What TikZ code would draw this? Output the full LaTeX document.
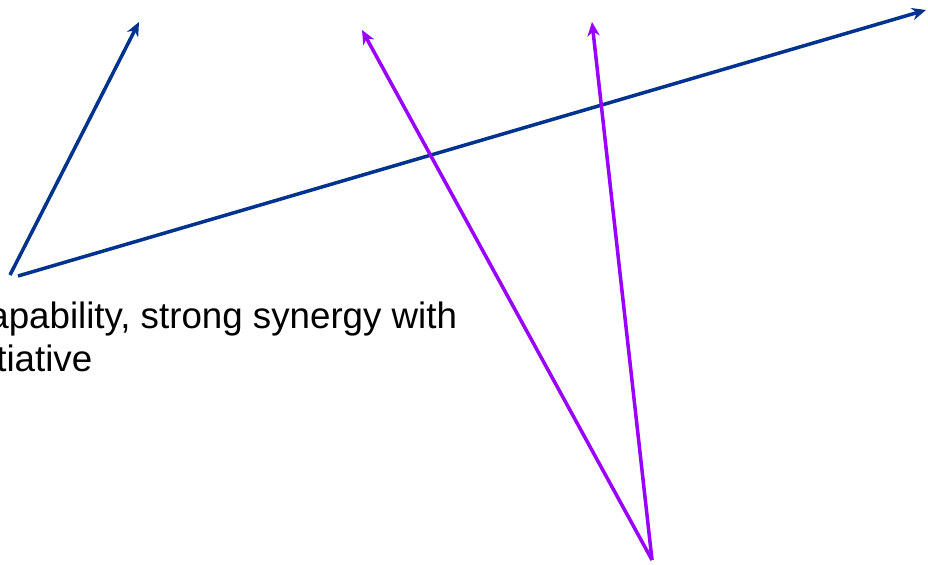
\documentclass[tikz,border=0pt]{standalone}
\usepackage{fontspec}
\setmainfont{Liberation Sans}
\usetikzlibrary{arrows.meta}
\definecolor{navyline}{RGB}{0,51,141}
\definecolor{violetline}{RGB}{153,0,255}

\begin{document}
\begin{tikzpicture}[x=0.02cm,y=-0.02cm,
  every node/.style={font=\fontsize{20.9pt}{24pt}\selectfont, inner sep=0pt, anchor=base west},
  vec/.style={line width=2pt, -{Stealth[length=8pt,width=7pt,inset=2.5pt]}}]
\useasboundingbox (0,0) rectangle (928,564);
\clip (0,0) rectangle (928,564);
% start points and tips
\coordinate (navyA) at (10,275);
\coordinate (navyB) at (18,276);
\coordinate (navyTipA) at (139,22);
\coordinate (navyTipB) at (926,10);
\coordinate (violetBase) at (652,560);
\coordinate (violetTipA) at (362,30);
\coordinate (violetTipB) at (592,22);
\draw[vec,navyline] (navyA) -- (navyTipA);
\draw[vec,navyline] (navyB) -- (navyTipB);
\draw[vec,violetline] (violetBase) -- (violetTipA);
\draw[vec,violetline] (violetBase) -- (violetTipB);
% clipped label
\node (lineone) at (-12,328) {apability, strong synergy with};
\node (linetwo) at (-4,371) {tiative};
\end{tikzpicture}
\end{document}
